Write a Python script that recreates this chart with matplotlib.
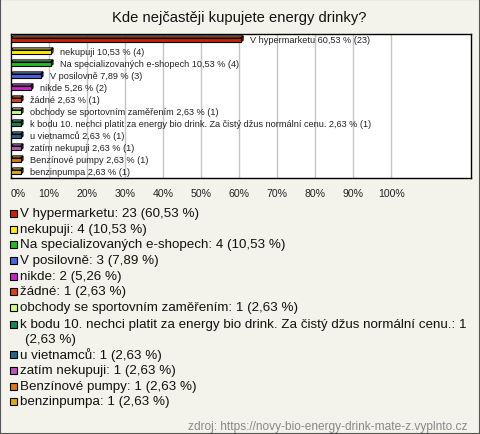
import matplotlib
matplotlib.use("Agg")
import matplotlib.pyplot as plt
from matplotlib.patches import Polygon, Rectangle
import matplotlib.colors as mcolors

plt.rcParams['font.family'] = ['Liberation Sans', 'DejaVu Sans']

title = "Kde nejčastěji kupujete energy drinky?"
categories = [
    "V hypermarketu",
    "nekupuji",
    "Na specializovaných e-shopech",
    "V posilovně",
    "nikde",
    "žádné",
    "obchody se sportovním zaměřením",
    "k bodu 10. nechci platit za energy bio drink. Za čistý džus normální cenu.",
    "u vietnamců",
    "zatím nekupuji",
    "Benzínové pumpy",
    "benzinpumpa",
]
counts = [23, 4, 4, 3, 2, 1, 1, 1, 1, 1, 1, 1]
percents = [60.53, 10.53, 10.53, 7.89, 5.26, 2.63, 2.63, 2.63, 2.63, 2.63, 2.63, 2.63]
colors = ["#cc2200", "#ffee00", "#22bb22", "#4466dd", "#cc22cc", "#dd4411",
          "#ccff77", "#118855", "#226688", "#bb55bb", "#dd7711", "#ddaa11"]
tick_values = [0, 10, 20, 30, 40, 50, 60, 70, 80, 90, 100]
source = "zdroj: https://novy-bio-energy-drink-mate-z.vyplnto.cz"

W, H = 480, 435
bg = "#f3f3ec"
fig = plt.figure(figsize=(W / 100, H / 100), dpi=100, facecolor=bg)

def fx(px):
    return px / W

def fy(py):
    return 1 - py / H

# outer frame
fig.patches.append(Rectangle((0, 0), 1, 1, transform=fig.transFigure, fill=False,
                             edgecolor="#555555", linewidth=1.5))

fig.text(fx(239), fy(18), title, ha="center", va="center", fontsize=10.6, color="#111111")

ax_l, ax_r, ax_t, ax_b = 11, 471, 35, 179
ax = fig.add_axes([fx(ax_l), fy(ax_b), fx(ax_r - ax_l), (ax_b - ax_t) / H])
ax.set_facecolor("white")
ppx = (ax_r - ax_l) / 121.0  # pixels per percent
xmax = 121.0
ax.set_xlim(0, xmax)
n = len(categories)
ax.set_ylim(n - 0.5, -0.5)
ppy = (ax_b - ax_t) / n

for t in tick_values[1:]:
    ax.axvline(t, color="#c4c4c4", linewidth=1, zorder=0)

h = 4.2 / ppy
dx = 2.0 / ppx
dy = 2.0 / ppy
for i, (v, c) in enumerate(zip(percents, colors)):
    top = i - h / 2
    bot = i + h / 2
    rgb = mcolors.to_rgb(c)
    light = tuple(min(1, x * 0.6 + 0.4) for x in rgb)
    dark = tuple(x * 0.6 for x in rgb)
    ax.add_patch(Polygon([(0, top), (dx, top - dy), (v + dx, top - dy), (v, top)],
                         closed=True, facecolor=light, edgecolor="black", linewidth=0.8, zorder=2))
    ax.add_patch(Polygon([(v, top), (v + dx, top - dy), (v + dx, bot - dy), (v, bot)],
                         closed=True, facecolor=dark, edgecolor="black", linewidth=0.8, zorder=2))
    ax.add_patch(Rectangle((0, top), v, h, facecolor=c, edgecolor="black", linewidth=0.8, zorder=3))
    lbl = f"{categories[i]} " + f"{percents[i]:.2f}".replace(".", ",") + f" % ({counts[i]})"
    ax.text(v + 9.0 / ppx, i - 0.5 / ppy, lbl, ha="left", va="center", fontsize=6.6,
            color="#222222", zorder=4)

ax.set_yticks([])
ax.set_xticks(tick_values)
ax.set_xticklabels([f"{t}%" for t in tick_values], fontsize=7.6, color="#222222")
ax.get_xticklabels()[0].set_ha("left")
ax.tick_params(axis="x", length=0, pad=7)
for s in ax.spines.values():
    s.set_color("black")
    s.set_linewidth(1)

# legend
leg_y = [214, 230, 245, 261, 277, 292, 308, 325, 355, 371, 387, 402]
fs = 9.6
for i, (cat, cnt, p, c) in enumerate(zip(categories, counts, percents, colors)):
    y = leg_y[i]
    fig.patches.append(Rectangle((fx(10), fy(y + 3.5)), 7 / W, 7 / H, transform=fig.transFigure,
                                 facecolor=c, edgecolor="black", linewidth=0.8))
    ptxt = f"{p:.2f}".replace(".", ",")
    txt = f"{cat}: {cnt} ({ptxt} %)"
    if i == 7:
        fig.text(fx(20), fy(y), f"{cat}: {cnt}", ha="left", va="center", fontsize=fs, color="#111111")
        fig.text(fx(25), fy(y + 15), f"({ptxt} %)", ha="left", va="center", fontsize=fs, color="#111111")
    else:
        fig.text(fx(20), fy(y), txt, ha="left", va="center", fontsize=fs, color="#111111")

fig.text(fx(468), fy(427), source, ha="right", va="center", fontsize=8.6, color="#888888")

fig.savefig("out.png", dpi=100, facecolor=bg)
